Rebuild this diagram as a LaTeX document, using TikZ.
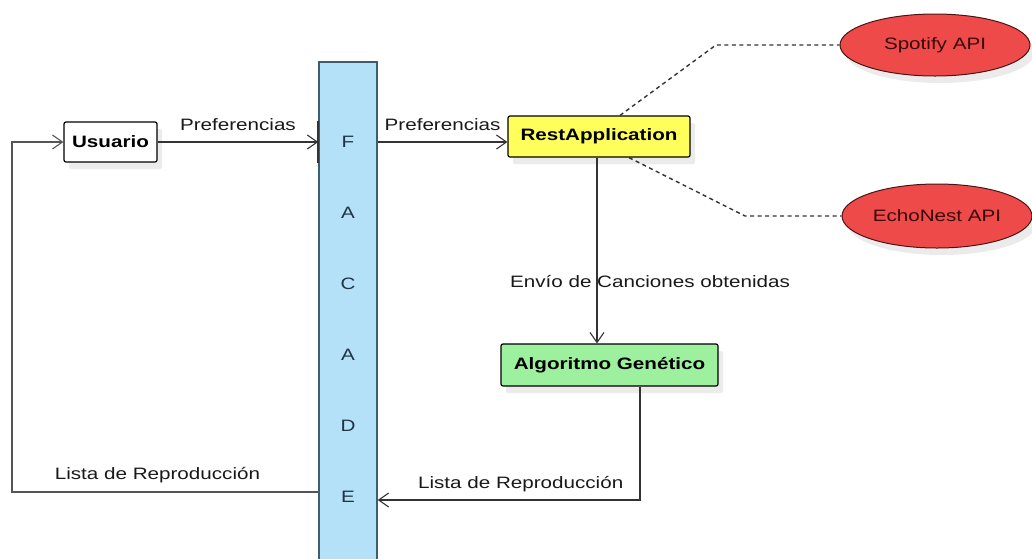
\documentclass[tikz,border=0pt]{standalone}
\usepackage{fontspec}
\setmainfont[FakeStretch=1.25]{Liberation Sans}
\usetikzlibrary{arrows.meta,shapes.geometric,shadows}

\definecolor{linegray}{HTML}{333333}
\definecolor{loopgray}{HTML}{555555}
\definecolor{facadefill}{HTML}{B5E1F8}
\definecolor{facadeedge}{HTML}{3F5D70}
\definecolor{facadetext}{HTML}{1E3345}
\definecolor{restfill}{HTML}{FFFF5C}
\definecolor{algofill}{HTML}{9DF09D}
\definecolor{apifill}{HTML}{EE4A4A}
\definecolor{apiedge}{HTML}{4A1414}
\definecolor{apitext}{HTML}{3A0808}

\tikzset{
  boxshadow/.style={drop shadow={shadow xshift=5pt, shadow yshift=-7pt, opacity=0.08, fill=black}},
  compbox/.style={draw=black, line width=1.2pt, rounded corners=2pt, inner sep=0pt,
    font=\fontsize{16.5}{19}\selectfont\bfseries, boxshadow},
  apinode/.style={ellipse, draw=apiedge, line width=1pt, fill=apifill, inner sep=0pt,
    minimum width=190pt, minimum height=62pt, text=apitext, boxshadow},
  facadebar/.style={draw=facadeedge, line width=1.5pt, fill=facadefill, inner sep=0pt},
  letter/.style={text=facadetext, inner sep=0pt},
  arr/.style={draw=linegray, line width=1.1pt, -{Straight Barb[length=10pt,width=14pt,line width=1.1pt]}},
  looparr/.style={draw=loopgray, line width=1.4pt, -{Straight Barb[length=10pt,width=14pt,line width=1.1pt]}},
  dep/.style={draw=linegray, line width=1.4pt, dash pattern=on 4pt off 3.5pt},
  lbl/.style={text=black!90, inner sep=0pt, anchor=base}
}

\begin{document}
\begin{tikzpicture}[x=1pt, y=-1pt, font=\fontsize{16.5}{19}\selectfont]
\useasboundingbox[fill=white] (0,0) rectangle (1032,558);

% facade column and its letters
\node[facadebar, minimum width=58pt, minimum height=500pt] (facade) at (348,312) {};
\node[letter] (fF)  at (348,142) {F};
\node[letter] (fA1) at (348,213) {A};
\node[letter] (fC)  at (348,284) {C};
\node[letter] (fA2) at (348,355) {A};
\node[letter] (fD)  at (348,426) {D};
\node[letter] (fE)  at (348,497) {E};

% components
\node[compbox, fill=white, minimum width=93pt, minimum height=40pt] (usuario) at (110.5,142) {Usuario};
\node[compbox, fill=restfill, minimum width=182pt, minimum height=41pt] (rest) at (599,136.5) {RestApplication};
\node[compbox, fill=algofill, minimum width=217pt, minimum height=42pt] (algo) at (609.5,365) {Algoritmo Genético};

% external services
\node[apinode] (spotify) at (935,45) {Spotify API};
\node[apinode, minimum height=64pt] (echo) at (937,216) {EchoNest API};

% bend points
\coordinate (spotbend) at (716,45);
\coordinate (echobend) at (745,216);
\coordinate (loopcorner) at (12,492);
\coordinate (algocorner) at (640,500);

% darker edge where the user request enters the facade
\draw[draw=black!80, line width=1.8pt] (facade.west |- usuario.north) -- (facade.west |- usuario.south);

% request flow
\draw[arr] (usuario.east) -- node[lbl, midway, yshift=12pt] {Preferencias} (usuario -| facade.west);
\draw[arr] (facade.east |- fF) -- node[lbl, midway, yshift=12pt] {Preferencias} (rest.west |- fF);

% service dependencies
\draw[dep] ([xshift=21pt]rest.north) -- (spotbend) -- (spotify.west);
\draw[dep] ([xshift=30pt]rest.south) -- (echobend) -- (echo.west);

% songs to the genetic algorithm
\draw[arr] ([xshift=-2pt]rest.south) -- node[lbl, pos=0.7, xshift=53pt] {Envío de Canciones obtenidas} ([xshift=-2pt]rest.south |- algo.north);

% playlist back through the facade
\draw[arr] ([xshift=30.5pt]algo.south) -- (algocorner)
  -- node[lbl, pos=0.455, yshift=12pt] {Lista de Reproducción} (algocorner -| facade.east);
\draw[looparr] ([yshift=5pt]facade.west |- fE) -- node[lbl, pos=0.525, yshift=13pt] {Lista de Reproducción} (loopcorner) |- (usuario.west);

\end{tikzpicture}
\end{document}
